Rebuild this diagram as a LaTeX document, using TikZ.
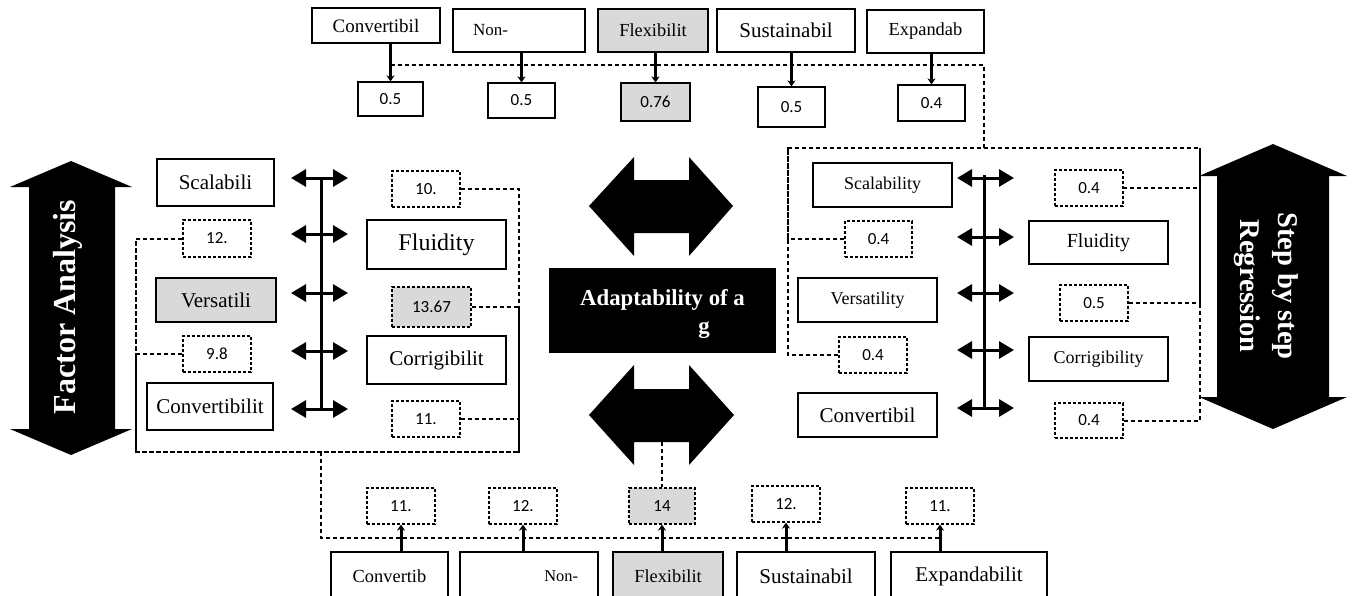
\documentclass[tikz,border=0pt]{standalone}
\usepackage{fontspec}
\setmainfont{Liberation Serif}
\newfontfamily\numfont{Carlito}
\usetikzlibrary{arrows.meta}
\definecolor{boxgray}{RGB}{217,217,217}

\begin{document}
\begin{tikzpicture}[x=0.5pt,y=-0.5pt,
  wbox/.style={draw, line width=1pt, inner sep=0pt, font=\fontsize{10.5}{12}\selectfont},
  nbox/.style={draw, line width=0.6pt, inner sep=0pt, font=\numfont\fontsize{8.5}{9}\selectfont},
  dbox/.style={nbox, dash pattern=on 1.5pt off 1pt},
  sz/.style 2 args={minimum width=#1*0.5pt, minimum height=#2*0.5pt},
  fs/.style={font=\fontsize{#1}{#1}\selectfont},
  link/.style={line width=1pt, dash pattern=on 2.2pt off 1.3pt},
  feed/.style={line width=1.5pt, -{Stealth[length=3pt,width=4pt]}},
  spoke/.style={line width=1.5pt, {Triangle[length=7.5pt,width=8.5pt]}-{Triangle[length=7.5pt,width=8.5pt]}}]
\useasboundingbox (0,0) rectangle (1352,595);
\clip (0,0) rectangle (1352,595);

% Top row
\node[wbox, sz={128}{35}, fs=9.5] (tconv) at (376,25.5) {Convertibil};
\node[wbox, sz={132}{43}, fs=8.5, align=left, text width=46pt] (tnon) at (519,30.5) {Non-};
\node[wbox, sz={110}{43}, fill=boxgray, fs=9.2] (tflex) at (653,30.5) {Flexibilit};
\node[wbox, sz={138}{43}] (tsust) at (786,30.5) {Sustainabil};
\node[wbox, sz={117}{43}, fs=9.2] (texp) at (925.5,31.5) {Expandab};

\node[nbox, sz={65}{34}] (tv1) at (390.5,99) {0.5};
\node[nbox, sz={67}{35}] (tv2) at (521.5,100.5) {0.5};
\node[nbox, sz={69}{38}, fill=boxgray] (tv3) at (655.5,102) {0.76};
\node[nbox, sz={67}{40}] (tv4) at (791.5,107) {0.5};
\node[nbox, sz={67}{36}] (tv5) at (931.5,103) {0.4};

\foreach \a/\b in {tconv/tv1, tnon/tv2, tflex/tv3, tsust/tv4, texp/tv5}
  \draw[feed] (\b.north |- \a.south) -- (\b.north);

\coordinate (ttop) at (984,65);
\coordinate (rtop) at (984,148);
\draw[link] (tv1.north |- ttop) -- (ttop) -- (rtop);

% Factor analysis side
\fill (71,161) -- (132,187) -- (115,187) -- (115,429) -- (132,429) -- (71,455)
  -- (10,429) -- (29,429) -- (29,187) -- (10,187) -- cycle;
\node[white, rotate=90, font=\bfseries\fontsize{16}{16}\selectfont] (fa) at (68,307) {Factor Analysis};

\node[wbox, sz={117}{47}] (lscal) at (215.5,182.5) {Scalabili};
\node[dbox, sz={68}{36}] (l10) at (426,189) {10.};
\node[dbox, sz={68}{37}] (l12) at (217,238.5) {12.};
\node[wbox, sz={139}{49}, fs=12] (lflu) at (436.5,244.5) {Fluidity};
\node[wbox, sz={120}{44}, fill=boxgray] (lvers) at (216,300) {Versatili};
\node[dbox, sz={79}{40}, fill=boxgray] (l13) at (431.5,307) {13.67};
\node[dbox, sz={68}{36}] (l98) at (217,354) {9.8};
\node[wbox, sz={139}{48}] (lcorr) at (436.5,360) {Corrigibilit};
\node[wbox, sz={126}{47}] (lconv) at (210,406.5) {Convertibilit};
\node[dbox, sz={68}{36}] (l11) at (426,419) {11.};

\draw[line width=1.5pt] (321,178) -- (321,409);
\foreach \y in {178,234,293,351,409}
  \draw[spoke] (291,\y) -- (348,\y);

\coordinate (lbl) at (136,452);
\coordinate (lbr) at (519,452);
\coordinate (lmid) at (321,452);
\draw[link] (l12.west) -| (lbl) -- (lbr);
\draw[link] (l98.west) -| (lbl);
\draw[link] (l10.east) -| (lbr);
\draw[link] (l13.east) -| (lbr);
\draw[link] (l11.east) -| (lbr);

% Centre
\fill (589,206) -- (634,157) -- (634,180) -- (689,180) -- (689,157) -- (733,206)
  -- (689,256) -- (689,233) -- (634,233) -- (634,256) -- cycle;
\fill (589,415) -- (634,365) -- (634,389) -- (689,389) -- (689,365) -- (734,415)
  -- (689,465) -- (689,442) -- (634,442) -- (634,465) -- cycle;
\node[fill=black, text=white, sz={227}{85}, inner sep=0pt, align=center,
  font=\bfseries\fontsize{11.4}{14}\selectfont] (core) at (662.5,310.5) {\rule{0pt}{12pt}Adaptability of a\\\hspace*{41.5pt}g};

% Step by step side
\fill (1273,144) -- (1347,176) -- (1329,176) -- (1329,397) -- (1347,397) -- (1273,429)
  -- (1199,397) -- (1217,397) -- (1217,176) -- (1199,176) -- cycle;
\node[white, rotate=-90, align=center, font=\bfseries\fontsize{14.3}{19}\selectfont] (sbs) at (1266,286) {Step by step\\Regression};

\node[wbox, sz={139}{44}, fs=9] (rscal) at (882.5,185) {Scalability};
\node[dbox, sz={68}{36}] (r1) at (1089,188) {0.4};
\node[dbox, sz={67}{36}] (r2) at (878.5,239) {0.4};
\node[wbox, sz={139}{43}, fs=10] (rflu) at (1098.5,242.5) {Fluidity};
\node[wbox, sz={139}{44}, fs=9] (rvers) at (867.5,300) {Versatility};
\node[dbox, sz={68}{36}] (r3) at (1094,303) {0.5};
\node[dbox, sz={68}{36}] (r4) at (873,355) {0.4};
\node[wbox, sz={139}{44}, fs=9] (rcorr) at (1098.5,359) {Corrigibility};
\node[wbox, sz={139}{44}] (rconv) at (867.5,415) {Convertibil};
\node[dbox, sz={68}{35}] (r5) at (1089,420.5) {0.4};

\draw[line width=1.5pt] (984,175) -- (984,407);
\foreach \y in {178,237,293,350,408}
  \draw[spoke] (957,\y) -- (1014,\y);

\coordinate (rtl) at (788,148);
\coordinate (rtr) at (1200,148);
\draw[link] (r2.west) -| (rtl) -- (rtr) |- (r1.east);
\draw[link] (r4.west) -| (rtl);
\draw[link] (r3.east) -| (rtr);
\draw[link] (r5.east) -| (rtr);

% Bottom row
\node[dbox, sz={68}{36}] (bv1) at (401,506) {11.};
\node[dbox, sz={68}{36}] (bv2) at (523,506) {12.};
\node[dbox, sz={66}{36}, fill=boxgray] (bv3) at (662,506) {14};
\node[dbox, sz={68}{36}] (bv4) at (786,504) {12.};
\node[dbox, sz={68}{36}] (bv5) at (940,506) {11.};

\node[wbox, sz={117}{48}, fs=9.2] (bconv) at (389.5,576) {Convertib};
\node[wbox, sz={138}{48}, fs=8.2, align=right, text width=49pt] (bnon) at (529,576) {Non-};
\node[wbox, sz={110}{48}, fill=boxgray, fs=9.2] (bflex) at (668,576) {Flexibilit};
\node[wbox, sz={138}{48}] (bsust) at (806,576) {Sustainabil};
\node[wbox, sz={156}{48}] (bexp) at (969,576) {Expandabilit};

\foreach \a/\b in {bconv/bv1, bnon/bv2, bflex/bv3, bsust/bv4, bexp/bv5}
  \draw[feed] (\b.south |- \a.north) -- (\b.south);

\coordinate (bbl) at (321,538);
\draw[link] (lmid) -- (bbl) -- (bv5.south |- bbl);
\coordinate (cgap) at (662,442);
\draw[link] (cgap) -- (bv3.north);
\end{tikzpicture}
\end{document}
